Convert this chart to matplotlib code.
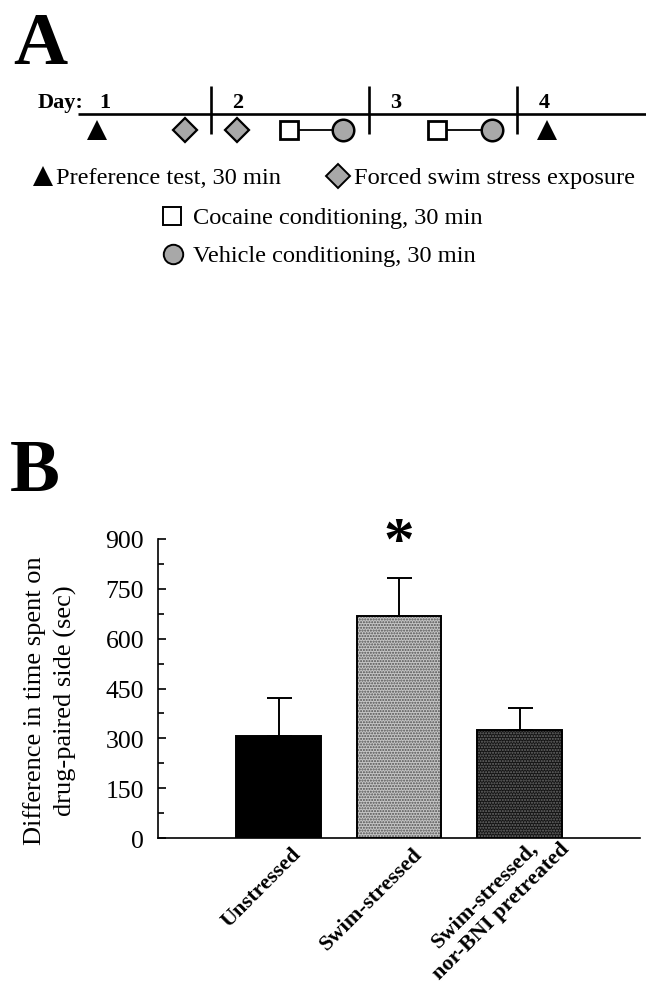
import numpy as np
import matplotlib.pyplot as plt
from matplotlib import transforms

plt.rcParams['font.family'] = ['Liberation Serif', 'DejaVu Serif']
plt.rcParams['hatch.linewidth'] = 1.0

# PANEL A: schedule (positions along the timeline, in pixels of the figure)
day_labels = ["1", "2", "3", "4"]
day_starts = [78, 211, 369, 517]
preference_tests = [97, 547]
swim_stress = [185, 237]
cocaine_cond = [289, 437]
vehicle_cond = [343, 492]

# PANEL B: data
groups = ["Unstressed", "Swim-stressed", "Swim-stressed,\nnor-BNI pretreated"]
means = [307, 669, 325]
sem = [114, 114, 66]
yticks = [0, 150, 300, 450, 600, 750, 900]

STIPPLE = "#a8a8a8"

fig = plt.figure(figsize=(6.46, 9.87), dpi=100)

# ---------- Panel A ----------
H_A = 270
ax_a = fig.add_axes([0, 1 - H_A / 987, 1, H_A / 987])
ax_a.set_xlim(0, 646)
ax_a.set_ylim(H_A, 0)
ax_a.axis("off")

y_line = 115
y_mark = 131
ax_a.plot([day_starts[0], 646], [y_line, y_line], color="black", lw=1.9,
          solid_capstyle="butt")
for x in day_starts[1:]:
    ax_a.plot([x, x], [87, 135], color="black", lw=1.9, solid_capstyle="butt")

ax_a.text(38, 108, "Day:", fontsize=16, fontweight="bold", va="baseline")
for lab, x in zip(day_labels, day_starts):
    ax_a.text(x + 27, 108, lab, fontsize=16, fontweight="bold",
              ha="center", va="baseline")

for xs, xc in zip(cocaine_cond, vehicle_cond):
    ax_a.plot([xs, xc], [y_mark, y_mark], color="black", lw=1.3, zorder=2)

ax_a.plot(preference_tests, [y_mark] * 2, "^", color="black", ms=14.5,
          mew=0, ls="none", zorder=3)
ax_a.plot(swim_stress, [y_mark] * 2, "D", mfc=STIPPLE, mec="black", ms=12.5,
          mew=1.6, ls="none", zorder=3)
ax_a.plot(cocaine_cond, [y_mark] * 2, "s", mfc="white", mec="black", ms=13.5,
          mew=2.0, ls="none", zorder=3)
ax_a.plot(vehicle_cond, [y_mark] * 2, "o", mfc=STIPPLE, mec="black", ms=15.5,
          mew=1.8, ls="none", zorder=3)

# legend
legend_rows = [
    (43, 177, "^", "black", 0, 14.5, "Preference test, 30 min", 56),
    (338, 177, "D", STIPPLE, 1.4, 12.5, "Forced swim stress exposure", 354),
    (172, 217, "s", "white", 1.4, 13, "Cocaine conditioning, 30 min", 193),
    (173, 255, "o", STIPPLE, 1.4, 14, "Vehicle conditioning, 30 min", 193),
]
for mx, my, m, fc, mew, ms, label, tx in legend_rows:
    ax_a.plot([mx], [my], m, mfc=fc, mec="black", mew=mew, ms=ms)
    ax_a.text(tx, my + 7, label, fontsize=17.6, va="baseline")

fig.text(13 / 646, 1 - 64 / 987, "A", fontsize=54, fontweight="bold",
         va="baseline")
fig.text(10 / 646, 1 - 491 / 987, "B", fontsize=54, fontweight="bold",
         va="baseline")

# ---------- Panel B ----------
ax = fig.add_axes([158 / 646, 1 - 839 / 987, 482 / 646, 299 / 987])
x = np.arange(len(groups))
styles = [
    dict(color="black", edgecolor="black"),
    dict(color="#c6c6c6", edgecolor="#505050", hatch="......"),
    dict(color="#141414", edgecolor="#6c6c6c", hatch="......"),
]
for xi, m, st in zip(x, means, styles):
    ax.bar(xi, m, width=0.705, linewidth=0, **st)
    ax.bar(xi, m, width=0.705, fill=False, edgecolor="black", linewidth=1.4)

ax.errorbar(x, means, yerr=[np.zeros(len(sem)), sem], fmt="none",
            ecolor="black", elinewidth=1.4, capsize=9, capthick=1.4)

ax.text(1, 843, "*", fontsize=44, fontweight="bold", ha="center",
        va="baseline", clip_on=False)

ax.set_xlim(-1, 3)
ax.set_ylim(0, 900)
ax.set_yticks(yticks)
ax.set_yticks(np.arange(75, 900, 150), minor=True)
ax.tick_params(axis="y", which="major", direction="in", length=6, width=1.2,
               labelsize=18.5, pad=10)
ax.tick_params(axis="y", which="minor", direction="in", length=4.5, width=1.2)
ax.spines["top"].set_visible(False)
ax.spines["right"].set_visible(False)
ax.spines["left"].set_linewidth(1.2)
ax.spines["bottom"].set_linewidth(1.2)

ax.set_xticks(x)
ax.set_xticklabels(groups, rotation=45, ha="right", va="top",
                   rotation_mode="anchor", fontsize=16, fontweight="bold",
                   multialignment="center")
ax.tick_params(axis="x", length=0, pad=4)
# per-label nudges (pixels) so the rotated labels sit as in the original
nudges = [(12, 0), (13, 0), (24, 22)]
for lab, (dx, dy) in zip(ax.get_xticklabels(), nudges):
    off = transforms.ScaledTranslation(dx / 100, dy / 100, fig.dpi_scale_trans)
    lab.set_transform(lab.get_transform() + off)

fig.text(50 / 646, 1 - 701 / 987,
         "Difference in time spent on\ndrug-paired side (sec)",
         rotation=90, ha="center", va="center", fontsize=19, linespacing=1.4)

plt.savefig("out.png", dpi=100)
